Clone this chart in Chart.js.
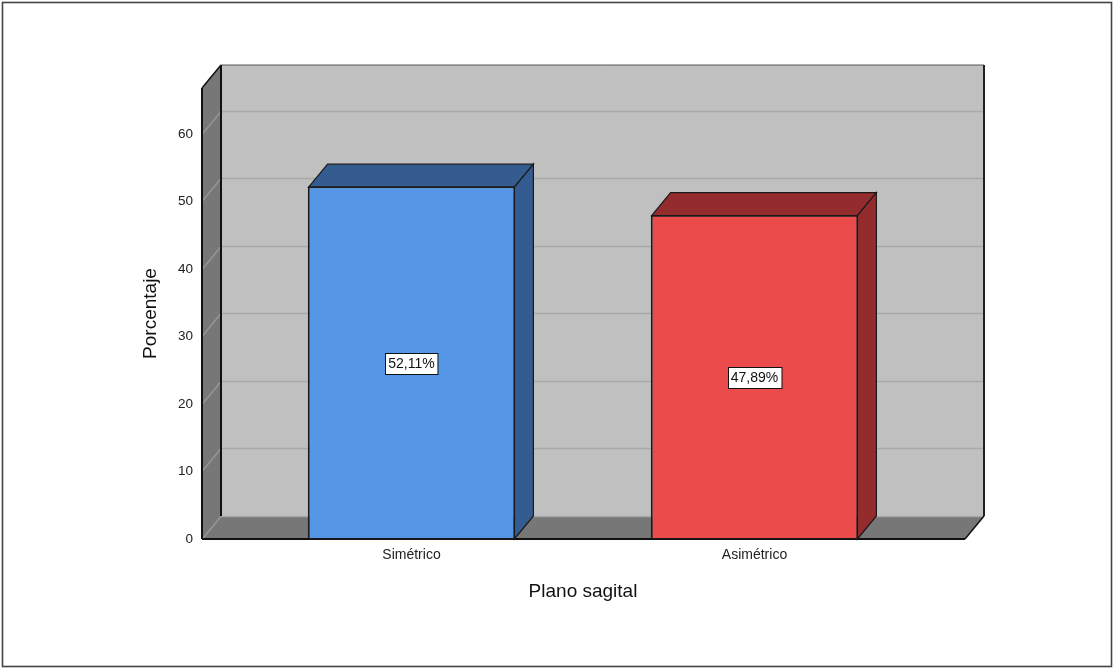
<!DOCTYPE html>
<html lang="es">
<head>
<meta charset="UTF-8">
<title>Plano sagital</title>
<script src="https://cdn.jsdelivr.net/npm/chart.js@4.4.1/dist/chart.umd.min.js"></script>
<style>
    html, body { margin: 0; padding: 0; background: #fff; }
    canvas { display: block; }
</style>
</head>
<body>
<canvas id="sagitalChart" width="1115" height="669"></canvas>
<script>
var categories = ['Simétrico', 'Asimétrico'];
var percentages = [52.11, 47.89];
var yTicks = [0, 10, 20, 30, 40, 50, 60];

var frontColors = ['#5596e6', '#ec4b4b'];
var shadeColors = ['#345c90', '#942c2e'];

// depth of the 3D box and how far the walls stick out past the plot area
var DX = 19, DY = -23;
var PAD_L = 38, PAD_R = 39;

Chart.defaults.font.family = "'Liberation Sans', Arial, sans-serif";
Chart.defaults.color = '#222';

function poly(ctx, pts, fill, stroke, lw) {
    ctx.beginPath();
    ctx.moveTo(pts[0][0], pts[0][1]);
    for (var i = 1; i < pts.length; i++) ctx.lineTo(pts[i][0], pts[i][1]);
    ctx.closePath();
    if (fill) { ctx.fillStyle = fill; ctx.fill(); }
    if (stroke) { ctx.strokeStyle = stroke; ctx.lineWidth = lw || 1; ctx.stroke(); }
}

function line(ctx, x1, y1, x2, y2, color, lw) {
    ctx.beginPath();
    ctx.moveTo(x1, y1);
    ctx.lineTo(x2, y2);
    ctx.strokeStyle = color;
    ctx.lineWidth = lw;
    ctx.stroke();
}

var box3d = {
    id: 'box3d',
    beforeDraw: function(chart) {
        var ctx = chart.ctx;
        ctx.save();
        ctx.fillStyle = '#fff';
        ctx.fillRect(0, 0, chart.width, chart.height);
        ctx.strokeStyle = '#444';
        ctx.lineWidth = 1.6;
        ctx.strokeRect(2.5, 2.5, chart.width - 6, chart.height - 5);
        ctx.restore();
    },
    beforeDatasetsDraw: function(chart) {
        var ctx = chart.ctx, a = chart.chartArea, y = chart.scales.y;
        var L = a.left - PAD_L, R = a.right + PAD_R, T = a.top, B = y.getPixelForValue(0);
        ctx.save();

        // back wall, side wall, floor
        ctx.fillStyle = '#c0c0c0';
        ctx.fillRect(L + DX, T + DY, R - L, B - T);
        poly(ctx, [[L, T], [L + DX, T + DY], [L + DX, B + DY], [L, B]], '#777');
        poly(ctx, [[L, B], [L + DX, B + DY], [R + DX, B + DY], [R, B]], '#777');

        // grid lines running along the side wall and across the back wall
        yTicks.forEach(function(v) {
            var py = Math.round(y.getPixelForValue(v)) + 0.5;
            line(ctx, L, py, L + DX, py + DY, '#999', 1.2);
            line(ctx, L + DX, py + DY, R + DX, py + DY, '#a9a9a9', 1.5);
        });

        // box edges
        line(ctx, L + DX, T + DY, R + DX, T + DY, '#555', 1);
        line(ctx, L + DX, T + DY, L + DX, B + DY, '#111', 2);
        line(ctx, R + DX, T + DY, R + DX, B + DY, '#222', 2);
        line(ctx, L, T, L, B, '#111', 2);
        line(ctx, L, T, L + DX, T + DY, '#111', 1.5);
        line(ctx, L, B, R, B, '#111', 2);
        line(ctx, R, B, R + DX, B + DY, '#111', 1.5);

        // top and side faces of the bars
        chart.getDatasetMeta(0).data.forEach(function(bar, i) {
            var p = bar.getProps(['x', 'y', 'base', 'width'], true);
            var l = p.x - p.width / 2, r = p.x + p.width / 2;
            poly(ctx, [[l, p.y], [l + DX, p.y + DY], [r + DX, p.y + DY], [r, p.y]], shadeColors[i], '#1a1a1a', 1.2);
            poly(ctx, [[r, p.y], [r + DX, p.y + DY], [r + DX, p.base + DY], [r, p.base]], shadeColors[i], '#1a1a1a', 1.2);
        });
        ctx.restore();
    },
    afterDatasetsDraw: function(chart) {
        var ctx = chart.ctx;
        ctx.save();
        ctx.font = "14px 'Liberation Sans', Arial, sans-serif";
        ctx.textAlign = 'center';
        ctx.textBaseline = 'middle';
        chart.getDatasetMeta(0).data.forEach(function(bar, i) {
            var p = bar.getProps(['x', 'y', 'base', 'width'], true);

            // dark outline round the front face
            ctx.strokeStyle = '#1a1a1a';
            ctx.lineWidth = 1.3;
            ctx.strokeRect(p.x - p.width / 2, p.y, p.width, p.base - p.y);

            var txt = percentages[i].toFixed(2).replace('.', ',') + '%';
            var cy = (p.y + p.base) / 2;
            var w = ctx.measureText(txt).width + 6, h = 21;
            var bx = Math.round(p.x - w / 2) + 0.5, by = Math.round(cy - h / 2) + 0.5;
            ctx.fillStyle = '#fff';
            ctx.fillRect(bx, by, w, h);
            ctx.strokeStyle = '#111';
            ctx.lineWidth = 1;
            ctx.strokeRect(bx, by, w, h);
            ctx.fillStyle = '#111';
            ctx.fillText(txt, p.x, cy + 1);
        });
        ctx.restore();
    }
};

var chart = new Chart(document.getElementById('sagitalChart').getContext('2d'), {
    type: 'bar',
    data: {
        labels: categories,
        datasets: [{
            data: percentages,
            backgroundColor: frontColors,
            borderColor: '#1a1a1a',
            borderWidth: 1,
            borderSkipped: false,
            categoryPercentage: 1,
            barPercentage: 0.6
        }]
    },
    options: {
        responsive: false,
        animation: false,
        layout: {
            padding: { top: 88, right: 189, bottom: 66, left: 139 }
        },
        plugins: {
            legend: { display: false },
            tooltip: { enabled: false }
        },
        scales: {
            x: {
                offset: true,
                grid: { display: false, drawTicks: false },
                border: { display: false },
                ticks: { padding: 8, color: '#222', font: { size: 14 } },
                title: {
                    display: true,
                    text: 'Plano sagital',
                    color: '#111',
                    font: { size: 19 },
                    padding: 0
                },
                afterFit: function(scale) { scale.height = 64; }
            },
            y: {
                min: 0,
                max: 66.8,
                grid: { display: false, drawTicks: false },
                border: { display: false },
                ticks: { padding: 47, color: '#222', font: { size: 13.5 } },
                afterBuildTicks: function(scale) {
                    scale.ticks = yTicks.map(function(v) { return { value: v }; });
                },
                title: {
                    display: true,
                    text: 'Porcentaje',
                    color: '#111',
                    font: { size: 19 },
                    padding: 0
                },
                afterFit: function(scale) { scale.width = 101; }
            }
        }
    },
    plugins: [box3d]
});
</script>
</body>
</html>
